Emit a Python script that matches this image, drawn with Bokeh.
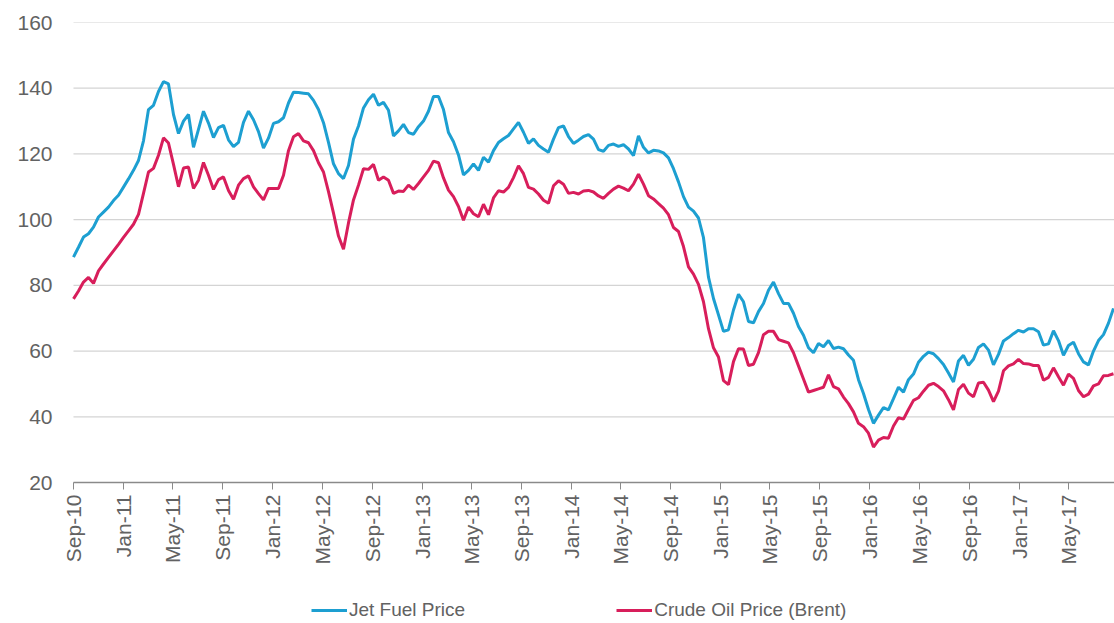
import math
import pandas as pd
from bokeh.plotting import figure
from bokeh.models import (Range1d, MonthsTicker, DatetimeTickFormatter, FixedTicker,
                          Legend, LegendItem, ColumnDataSource)
from bokeh.embed import file_html
from bokeh.resources import INLINE

# ---- data ----
start_date = "2010-09-01"
end_date = "2017-08-19"

jet_fuel = [
    88.6, 91.6, 94.7, 95.7, 97.7, 100.8, 102.3, 103.8, 105.8, 107.4,
    109.9, 112.4, 115.0, 118.0, 124.0, 133.5, 134.8, 139.0, 142.0, 141.3,
    132.0, 126.2, 130.0, 132.0, 122.0, 127.5, 133.0, 129.4, 125.0, 128.0,
    128.7, 124.3, 122.2, 123.5, 129.6, 133.0, 130.4, 126.8, 121.8, 124.8,
    129.3, 129.8, 131.0, 135.5, 138.8, 138.7, 138.5, 138.3, 136.3, 133.5,
    129.5, 123.5, 117.0, 114.0, 112.5, 116.5, 124.5, 128.5, 134.0, 136.5,
    138.2, 134.8, 135.7, 133.3, 125.5, 127.0, 129.0, 126.5, 126.0, 128.3,
    130.0, 133.0, 137.5, 137.5, 133.5, 126.5, 123.7, 119.7, 113.6, 115.0,
    117.0, 115.0, 119.0, 117.5, 121.0, 123.5, 124.6, 125.6, 127.6, 129.6,
    126.6, 123.2, 124.6, 122.6, 121.5, 120.5, 124.5, 128.0, 128.5, 125.3,
    123.2, 124.2, 125.3, 125.9, 124.5, 121.3, 120.8, 122.6, 123.0, 122.3,
    122.8, 121.5, 119.5, 125.5, 122.0, 120.3, 121.1, 120.9, 120.3, 118.8,
    115.5, 111.5, 107.0, 103.8, 102.6, 100.5, 94.5, 82.5, 76.0, 71.0,
    66.0, 66.5, 72.5, 77.3, 75.0, 69.0, 68.6, 72.0, 74.5, 78.5,
    81.0, 77.5, 74.5, 74.5, 71.5, 67.5, 64.8, 61.0, 59.5, 62.3,
    61.3, 63.2, 60.8, 61.2, 60.7, 58.8, 57.2, 51.3, 47.1, 42.2,
    38.0, 40.5, 42.8, 42.1, 45.5, 49.0, 47.5, 51.3, 53.0, 56.6,
    58.4, 59.7, 59.2, 57.7, 55.9, 53.3, 50.6, 57.0, 58.7, 55.7,
    57.5, 61.1, 62.2, 60.3, 55.8, 59.0, 63.1, 64.1, 65.3, 66.3,
    65.8, 66.8, 66.8, 65.9, 61.8, 62.2, 66.2, 63.2, 58.7, 61.7,
    62.7, 59.2, 56.7, 55.8, 60.0, 63.2, 65.0, 68.5, 73.0,
]

brent = [
    75.9, 78.3, 81.0, 82.4, 80.6, 84.4, 86.5, 88.5, 90.5, 92.5,
    94.6, 96.6, 98.6, 101.6, 108.0, 114.5, 115.6, 119.6, 124.9, 123.3,
    116.8, 110.0, 115.7, 116.0, 109.5, 112.0, 117.4, 113.5, 109.2, 112.2,
    113.0, 108.9, 106.2, 110.5, 112.5, 113.3, 110.0, 107.9, 106.0, 109.5,
    109.5, 109.5, 113.5, 121.0, 125.2, 126.2, 124.0, 123.4, 121.0, 117.3,
    114.5, 108.5, 102.0, 95.0, 91.0, 99.0, 106.0, 110.5, 115.5, 115.3,
    116.8, 112.0, 113.0, 112.0, 108.0, 108.7, 108.6, 110.5, 109.2, 111.0,
    113.0, 115.0, 117.8, 117.3, 112.7, 109.0, 107.0, 104.0, 99.8, 103.8,
    101.8, 100.9, 104.7, 101.5, 106.6, 108.8, 108.4, 109.8, 112.8, 116.4,
    114.0, 109.8, 109.3, 107.8, 105.9, 105.0, 110.3, 111.8, 110.8, 108.0,
    108.3, 107.8, 108.7, 108.9, 108.4, 107.2, 106.5, 108.0, 109.3, 110.2,
    109.6, 108.8, 110.8, 113.8, 110.8, 107.3, 106.3, 104.9, 103.5, 101.5,
    97.6, 96.4, 91.8, 85.6, 83.4, 80.3, 75.0, 66.8, 61.0, 58.2,
    51.0, 49.8, 56.8, 60.7, 60.6, 55.6, 56.0, 59.5, 65.0, 66.0,
    66.0, 63.5, 63.0, 62.5, 59.5, 55.5, 51.5, 47.5, 48.0, 48.5,
    49.0, 52.8, 49.2, 48.5, 46.0, 44.0, 41.5, 38.0, 37.0, 35.0,
    30.8, 32.9, 33.7, 33.5, 37.2, 39.7, 39.3, 42.2, 45.0, 45.8,
    47.8, 49.6, 50.2, 49.2, 47.9, 45.2, 42.1, 48.3, 49.9, 47.2,
    46.1, 50.3, 50.5, 48.1, 44.6, 47.8, 54.0, 55.5, 56.1, 57.5,
    56.2, 56.1, 55.6, 55.6, 51.1, 52.0, 54.9, 52.2, 49.6, 53.0,
    51.7, 48.0, 46.1, 46.9, 49.4, 50.0, 52.5, 52.6, 53.1,
]

series_names = ["Jet Fuel Price", "Crude Oil Price (Brent)"]
series_colors = ["#1d9fd1", "#d81e5b"]
y_ticks = [20, 40, 60, 80, 100, 120, 140, 160]
tick_months = [0, 4, 8]   # Jan, May, Sep (0-based)

dates = pd.date_range(start_date, end_date, periods=len(jet_fuel))
source = ColumnDataSource(dict(date=dates, jet=jet_fuel, brent=brent))

FONT = "Liberation Sans"
TEXT_COLOR = "#626262"

# axis/grid extent (dates) and the visible window (a little room left of Sep-10
# so the first rotated date label is not cut)
axis_start = pd.Timestamp("2010-09-01")
axis_end = pd.Timestamp("2017-08-21 12:00")
view_start = pd.Timestamp("2010-07-19")

# Frame spans 22..622 px; value 160 sits at the top and value 20 at 482 px.
PX_PER_UNIT = (482 - 22) / (160 - 20)
y_bottom = 20 - (622 - 482) / PX_PER_UNIT

p = figure(
    width=1114, height=622,
    x_axis_type="datetime",
    x_range=Range1d(view_start, axis_end),
    y_range=Range1d(y_bottom, 160),
    output_backend="svg", toolbar_location=None,
    min_border_left=55, min_border_right=0, min_border_top=22, min_border_bottom=0,
)
p.outline_line_color = None
p.background_fill_color = "white"
p.border_fill_color = "white"

# x axis drawn at value 20 inside the frame
xa = p.xaxis[0]
xa.fixed_location = 20
xa.bounds = (axis_start, axis_end)
xa.ticker = MonthsTicker(months=tick_months)
xa.formatter = DatetimeTickFormatter(months="%b-%y", days="%b-%y", years="%b-%y")
xa.major_label_orientation = math.pi / 2
xa.axis_line_color = "#8a8a8a"
xa.axis_line_width = 1.3
xa.major_tick_line_color = "#8a8a8a"
xa.major_tick_out = 7
xa.major_tick_in = 0
xa.minor_tick_line_color = None
xa.major_label_standoff = 5
xa.major_label_text_font = FONT
xa.major_label_text_font_size = "21px"
xa.major_label_text_color = TEXT_COLOR

# y axis
ya = p.yaxis[0]
ya.ticker = FixedTicker(ticks=y_ticks)
ya.axis_line_color = None
ya.major_tick_line_color = None
ya.minor_tick_line_color = None
ya.major_tick_out = 0
ya.major_label_standoff = 3
ya.major_label_text_font = FONT
ya.major_label_text_font_size = "21px"
ya.major_label_text_color = TEXT_COLOR

# horizontal gridlines spanning only the date axis extent
p.xgrid.grid_line_color = None
p.ygrid.grid_line_color = None
p.segment(x0=[axis_start] * len(y_ticks), x1=[axis_end] * len(y_ticks),
          y0=y_ticks, y1=y_ticks, line_color="#d4d4d4", line_width=1.2)

r1 = p.line("date", "jet", source=source, line_color=series_colors[0], line_width=3)
r2 = p.line("date", "brent", source=source, line_color=series_colors[1], line_width=3)

legend = Legend(
    items=[LegendItem(label=series_names[0], renderers=[r1]),
           LegendItem(label=series_names[1], renderers=[r2])],
    orientation="horizontal",
    location=(256, 1),
    padding=0, margin=0, spacing=151,
    glyph_width=36, glyph_height=20, label_standoff=2,
    label_text_font=FONT, label_text_font_size="19px", label_text_color=TEXT_COLOR,
    border_line_color=None, background_fill_alpha=0,
)
p.add_layout(legend, "center")

open("out.html", "w").write(file_html(p, INLINE))
